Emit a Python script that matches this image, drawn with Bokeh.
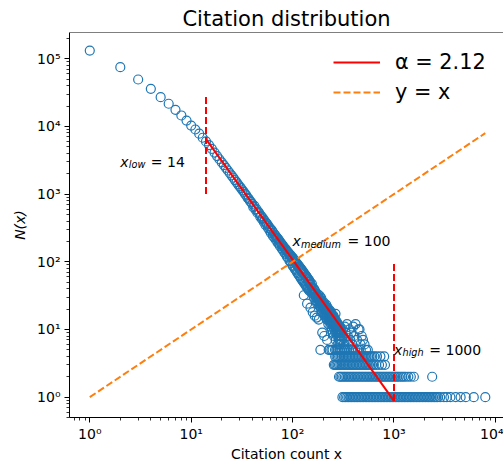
from bokeh.plotting import figure
from bokeh.models import (FixedTicker, Legend, LegendItem, Label, Range1d, Span)
from bokeh.embed import file_html
from bokeh.resources import INLINE

# ---------------- data ----------------
# dense part: every citation count 1..300 present
cit_dense = list(range(1, 301))
n_dense = [
    132000, 75000, 49300, 35900, 27000, 21600, 17600, 14500, 12200, 10300,
    9000, 7800, 6800, 6000, 5300, 4650, 4100, 3650, 3270, 2950,
    2680, 2440, 2230, 2050, 1890, 1745, 1610, 1500, 1395, 1300,
    1225, 1140, 1080, 1005, 955, 880, 850, 790, 760, 715,
    640, 668, 590, 602, 530, 548, 520, 462, 478, 425,
    440, 388, 405, 352, 374, 362, 318, 336, 294, 312,
    268, 296, 284, 241, 266, 230, 250, 214, 236, 226,
    193, 218, 185, 205, 171, 194, 186, 158, 179, 150,
    170, 163, 137, 158, 131, 152, 145, 119, 141, 115,
    136, 129, 104, 128, 102, 124, 96, 118, 112, 88,
    114, 85, 107, 99, 79, 103, 76, 97, 91, 71,
    94, 68, 89, 83, 64, 86, 62, 82, 75, 58,
    79, 56, 76, 70, 53, 73, 51, 70, 32, 49,
    67, 47, 64, 58, 45, 62, 43, 60, 24, 41,
    57, 40, 55, 50, 38, 53, 37, 51, 46, 21,
    46, 36, 43, 38, 47, 34, 41, 18, 37, 33,
    40, 30, 35, 39, 16, 33, 37, 27, 34, 30,
    32, 26, 15, 29, 24, 31, 28, 33, 25, 29,
    14, 30, 26, 23, 28, 31, 22, 5, 24, 26,
    21, 29, 23, 18, 26, 9, 25, 20, 24, 21,
    23, 17, 22, 25, 8, 21, 16, 23, 20, 18,
    22, 15, 20, 18, 23, 17, 19, 14, 7, 16,
    18, 21, 15, 19, 12, 17, 5, 14, 16, 18,
    13, 17, 15, 19, 14, 11, 16, 15, 18, 12,
    15, 13, 17, 10, 14, 16, 12, 15, 9, 13,
    14, 11, 16, 12, 8, 13, 15, 10, 14, 12,
    11, 13, 9, 14, 17, 7, 11, 13, 10, 12,
    9, 11, 13, 8, 10, 12, 9, 6, 11, 10,
    12, 8, 10, 9, 11, 7, 10, 9, 6, 11,
    8, 10, 7, 9, 11, 8, 6, 9, 10, 7,
]
# sparse tail above the rows
cit_mid = [303, 307, 312, 316, 321, 327, 333, 338, 344, 350, 357, 364, 371, 379,
           388, 396, 405, 418, 432, 447, 457, 468, 480, 495, 512, 530, 552]
n_mid = [9, 7, 10, 8, 6, 11, 9, 7, 12, 8, 6, 10, 7, 9,
         6, 11, 8, 12, 7, 10, 10, 6, 8, 7, 6, 5, 5]
# rows of small counts
cit_n5 = [232, 241, 248, 262, 270, 279, 291, 304, 318, 331, 345, 360, 376, 394, 415, 440, 470]
cit_n4 = [263, 271, 279, 288, 297, 306, 316, 326, 337, 348, 359, 371, 383, 396, 409, 423,
          437, 452, 467, 483, 500, 517, 535, 553, 572, 592, 612, 640, 680, 735, 800]
cit_n3 = [255, 262, 270, 278, 287, 296, 305, 315, 325, 335, 346, 357, 369, 381, 393, 406,
          420, 434, 448, 463, 479, 495, 512, 530, 548, 567, 587, 608, 633, 668, 712, 760, 815]
cit_n2 = [287, 296, 305, 316, 327, 338, 350, 362, 374, 387, 400, 414, 428, 443, 458, 474,
          490, 507, 525, 543, 562, 581, 601, 622, 644, 666, 689, 713, 738, 763, 790, 817,
          845, 875, 905, 936, 969, 1003, 1038, 1074, 1112, 1160, 1205, 1255, 1310, 1385,
          1465, 1570, 2380]
cit_n1 = [310, 322, 333, 345, 357, 369, 382, 395, 409, 423, 438, 453, 469, 485, 502, 520,
          538, 557, 576, 596, 617, 638, 660, 683, 707, 732, 757, 784, 811, 839, 868, 899,
          930, 962, 996, 1031, 1067, 1104, 1142, 1182, 1223, 1266, 1310, 1356, 1403, 1452,
          1503, 1555, 1609, 1666, 1724, 1784, 1846, 1911, 1977, 2046, 2118, 2192, 2268,
          2347, 2430, 2515, 2602, 2693, 2850, 3110, 3320, 3600, 4050, 4540, 5100, 6120, 7950]

fit_x = [14, 1000]          # power-law fit, alpha = 2.12
fit_n = [6500, 0.88]
x_low, x_medium, x_high = 14, 100, 1000
vline_low_n = [1000, 30000]
vline_high_n = [0.88, 95]

x_major = [1, 10, 100, 1000, 10000]
x_major_labels = ["10⁰", "10¹", "10²", "10³", "10⁴"]
y_major = [1, 10, 100, 1000, 10000, 100000]
y_major_labels = ["10⁰", "10¹", "10²", "10³", "10⁴", "10⁵"]

# assemble scatter
xs = list(cit_dense) + cit_mid + cit_n5 + cit_n4 + cit_n3 + cit_n2 + cit_n1
ns = (list(n_dense) + n_mid + [5] * len(cit_n5) + [4] * len(cit_n4) + [3] * len(cit_n3)
      + [2] * len(cit_n2) + [1] * len(cit_n1))

FONT = "DejaVu Sans"
BLUE = "#1f77b4"
ORANGE = "#ff7f0e"
RED = "#ff0000"

p = figure(width=503, height=466, x_axis_type="log", y_axis_type="log",
           x_range=Range1d(0.631, 12020), y_range=Range1d(0.5, 2.44e5),
           output_backend="svg", toolbar_location=None,
           title="Citation distribution",
           min_border_left=69, min_border_right=0, min_border_top=32, min_border_bottom=49)
p.outline_line_color = None
p.grid.visible = False
p.background_fill_color = "white"
p.border_fill_color = "white"

p.title.text_font = FONT
p.title.text_font_size = "21px"
p.title.text_font_style = "normal"
p.title.text_color = "black"
p.title.align = "center"
p.title.standoff = 4

minor = [m * 10.0 ** k for k in range(-1, 6) for m in range(2, 10)]

def style_axis(ax, majors, labels):
    ax.ticker = FixedTicker(ticks=majors, minor_ticks=minor)
    ov = {}
    for t, lab in zip(majors, labels):
        ov[t] = lab
    ax.major_label_overrides = ov
    ax.major_label_text_font = FONT
    ax.major_label_text_font_size = "14px"
    ax.major_label_text_color = "black"
    ax.major_tick_in = 0
    ax.major_tick_out = 5
    ax.minor_tick_in = 0
    ax.minor_tick_out = 3
    ax.major_tick_line_color = "black"
    ax.minor_tick_line_color = "black"
    ax.minor_tick_line_width = 0.8
    ax.axis_line_color = "black"
    ax.axis_line_width = 1
    ax.major_label_standoff = 4
    ax.axis_label_text_font = FONT
    ax.axis_label_text_font_size = "14px"
    ax.axis_label_text_color = "black"

style_axis(p.xaxis[0], x_major, x_major_labels)
style_axis(p.yaxis[0], y_major, y_major_labels)
p.xaxis.axis_label = "Citation count x"
p.xaxis.axis_label_text_font_style = "normal"
p.xaxis.axis_label_standoff = 1
p.xaxis.major_label_standoff = 3
p.yaxis.axis_label = "N(x)"
p.yaxis.axis_label_text_font_style = "italic"
p.yaxis.axis_label_standoff = 6

# top spine
p.add_layout(Span(location=2.44e5, dimension="width", line_color="black", line_width=1))

# data
p.scatter(xs, ns, marker="circle", size=9, fill_color=None, line_color=BLUE, line_width=1.2)
r_fit = p.line(fit_x, fit_n, line_color=RED, line_width=2)
r_yx = p.line([min(xs), max(xs)], [min(xs), max(xs)], line_color=ORANGE, line_width=2,
              line_dash="7 3")
p.line([x_low, x_low], vline_low_n, line_color=RED, line_width=2, line_dash="7 3")
p.line([x_high, x_high], vline_high_n, line_color=RED, line_width=2, line_dash="7 3")

# annotations
ann = [
    (2, 3000, "low", "= 14", 30.5),
    (x_medium, 200, "medium", "= 100", 55),
    (x_high, 5, "high", "= 1000", 35.3),
]
for ax_, ay_, sub, rest, off in ann:
    p.add_layout(Label(x=ax_, y=ay_, text="x", text_font=FONT, text_font_style="italic",
                       text_font_size="14px", text_baseline="alphabetic", text_color="black"))
    p.add_layout(Label(x=ax_, y=ay_, x_offset=8.5, y_offset=-3, text=sub, text_font=FONT,
                       text_font_style="italic", text_font_size="9.7px",
                       text_baseline="alphabetic", text_color="black"))
    p.add_layout(Label(x=ax_, y=ay_, x_offset=off, text=rest, text_font=FONT,
                       text_font_size="14px", text_baseline="alphabetic", text_color="black"))

legend = Legend(items=[LegendItem(label="α = 2.12", renderers=[r_fit]),
                       LegendItem(label="y = x", renderers=[r_yx])],
                location=(264, 313), border_line_color=None, background_fill_alpha=0,
                padding=0, margin=0, glyph_width=47, glyph_height=24, label_height=24,
                label_standoff=15, spacing=6, label_text_font=FONT,
                label_text_font_size="20.8px", label_text_color="black")
p.add_layout(legend)

open("out.html", "w").write(file_html(p, INLINE))
